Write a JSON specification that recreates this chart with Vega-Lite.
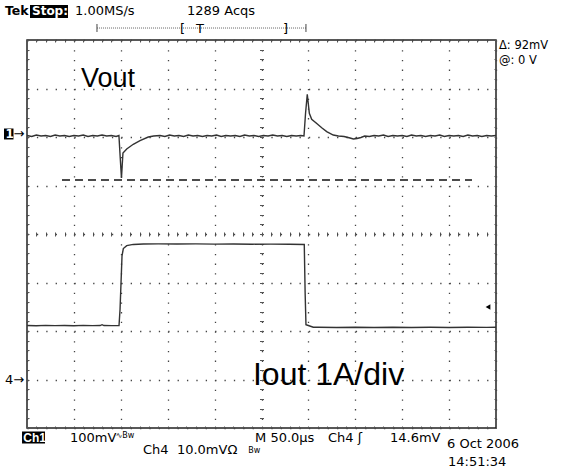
{
  "$schema": "https://vega.github.io/schema/vega-lite/v6.json",
  "width": 469,
  "height": 388,
  "autosize": "none",
  "padding": {"left": 27, "top": 40, "right": 90, "bottom": 40},
  "background": "white",
  "config": {
    "view": {"stroke": "#222", "strokeWidth": 1.5},
    "axis": {"labels": false, "ticks": false, "domain": false, "grid": false, "title": null}
  },
  "resolve": {"axis": {"x": "independent", "y": "independent"}},
  "datasets": {
    "vout": [
      {"t":0,"v":2.03},{"t":5,"v":2.01},{"t":10,"v":2.04},{"t":15,"v":2.02},{"t":20,"v":2.03},{"t":25,"v":2.01},{"t":30,"v":2.04},{"t":35,"v":2.02},{"t":40,"v":2.03},{"t":45,"v":2.01},{"t":50,"v":2.03},{"t":55,"v":2.02},{"t":60,"v":2.04},{"t":65,"v":2.01},{"t":70,"v":2.03},{"t":75,"v":2.02},{"t":80,"v":2.04},{"t":85,"v":2.02},{"t":90,"v":2.03},{"t":95,"v":2.01},{"t":98,"v":2.03},{"t":99.3,"v":1.6},{"t":100.7,"v":1.155},{"t":102.3,"v":1.67},{"t":106.3,"v":1.753},{"t":113.3,"v":1.85},{"t":120.5,"v":1.924},{"t":129.3,"v":2.0},{"t":135,"v":2.02},{"t":141.8,"v":2.03},{"t":147,"v":2.01},{"t":152,"v":2.04},{"t":157,"v":2.02},{"t":162,"v":2.03},{"t":167,"v":2.01},{"t":172,"v":2.04},{"t":177,"v":2.02},{"t":182,"v":2.03},{"t":187,"v":2.01},{"t":192,"v":2.03},{"t":197,"v":2.02},{"t":202,"v":2.04},{"t":207,"v":2.01},{"t":212,"v":2.03},{"t":217,"v":2.02},{"t":222,"v":2.03},{"t":227,"v":2.01},{"t":232,"v":2.04},{"t":237,"v":2.02},{"t":242,"v":2.03},{"t":247,"v":2.01},{"t":252,"v":2.03},{"t":257,"v":2.02},{"t":262,"v":2.04},{"t":267,"v":2.02},{"t":272,"v":2.03},{"t":277,"v":2.01},{"t":282,"v":2.03},{"t":287,"v":2.02},{"t":292,"v":2.03},{"t":295.3,"v":2.02},{"t":297,"v":2.5},{"t":298.8,"v":2.88},{"t":301,"v":2.49},{"t":303.5,"v":2.365},{"t":308.9,"v":2.28},{"t":314.2,"v":2.19},{"t":319.5,"v":2.11},{"t":326.5,"v":2.04},{"t":332,"v":2.02},{"t":338,"v":2.01},{"t":344.4,"v":1.98},{"t":348,"v":1.96},{"t":351.8,"v":1.97},{"t":356,"v":1.99},{"t":360,"v":2.02},{"t":365,"v":2.01},{"t":370,"v":2.03},{"t":375,"v":2.02},{"t":380,"v":2.04},{"t":385,"v":2.01},{"t":390,"v":2.03},{"t":395,"v":2.02},{"t":400,"v":2.03},{"t":405,"v":2.01},{"t":410,"v":2.04},{"t":415,"v":2.02},{"t":420,"v":2.03},{"t":425,"v":2.01},{"t":430,"v":2.03},{"t":435,"v":2.02},{"t":440,"v":2.04},{"t":445,"v":2.01},{"t":450,"v":2.03},{"t":455,"v":2.02},{"t":460,"v":2.03},{"t":465,"v":2.01},{"t":470,"v":2.04},{"t":475,"v":2.02},{"t":480,"v":2.03},{"t":485,"v":2.01},{"t":490,"v":2.03},{"t":495,"v":2.02},{"t":500,"v":2.03}
    ],
    "iout": [
      {"t":0,"v":-1.887},{"t":10,"v":-1.892},{"t":20,"v":-1.884},{"t":30,"v":-1.89},{"t":40,"v":-1.886},{"t":50,"v":-1.893},{"t":60,"v":-1.885},{"t":70,"v":-1.889},{"t":78,"v":-1.887},{"t":80,"v":-1.87},{"t":82,"v":-1.888},{"t":90,"v":-1.89},{"t":98.1,"v":-1.887},{"t":99.2,"v":-1.55},{"t":101.3,"v":-0.45},{"t":102.7,"v":-0.3},{"t":106.3,"v":-0.24},{"t":113.3,"v":-0.215},{"t":124,"v":-0.206},{"t":140,"v":-0.203},{"t":160,"v":-0.207},{"t":180,"v":-0.204},{"t":200,"v":-0.209},{"t":220,"v":-0.206},{"t":240,"v":-0.21},{"t":260,"v":-0.208},{"t":280,"v":-0.212},{"t":295.6,"v":-0.215},{"t":296.5,"v":-1.2},{"t":297.4,"v":-1.87},{"t":299.9,"v":-1.887},{"t":305.2,"v":-1.922},{"t":310.6,"v":-1.924},{"t":330,"v":-1.928},{"t":350,"v":-1.922},{"t":370,"v":-1.927},{"t":390,"v":-1.923},{"t":410,"v":-1.929},{"t":430,"v":-1.924},{"t":450,"v":-1.927},{"t":470,"v":-1.922},{"t":490,"v":-1.926},{"t":500,"v":-1.924}
    ],
    "ref": [{"x": 37.3, "x2": 474.4, "y": 1.113}],
    "ruler": [{"x": 74.6, "x2": 297.4, "y": 4.247}],
    "rulerEnds": [{"x": 74.6, "y": 4.33, "y2": 4.165}, {"x": 297.4, "y": 4.33, "y2": 4.165}],
    "boxes": [
      {"x": 3.2, "x2": 43.7, "y": 4.722, "y2": 4.454},
      {"x": -5.3, "x2": 19.2, "y": -4.072, "y2": -4.319},
      {"x": -24.5, "x2": -14.4, "y": 2.175, "y2": 1.949}
    ],
    "whiteText": [
      {"x": 5.33, "y": 4.588, "label": "Stop:"},
      {"x": -22.8, "y": 2.062, "label": "1"}
    ],
    "whiteText2": [
      {"x": -4.0, "y": -4.196, "label": "Ch1"}
    ],
    "boldText": [{"x": -23.45, "y": 4.588, "label": "Tek"}],
    "scopeText": [
      {"x": 51.2, "y": 4.588, "label": "1.00MS/s"},
      {"x": 170.6, "y": 4.588, "label": "1289 Acqs"},
      {"x": 163.1, "y": 4.237, "label": "["},
      {"x": 180.2, "y": 4.237, "label": "T"},
      {"x": 272.9, "y": 4.237, "label": "]"},
      {"x": 45.8, "y": -4.196, "label": "100mV"},
      {"x": 243.1, "y": -4.196, "label": "M 50.0µs"},
      {"x": 320.9, "y": -4.196, "label": "Ch4 ʃ"},
      {"x": 387.0, "y": -4.196, "label": "14.6mV"},
      {"x": 447.8, "y": -4.33, "label": "6 Oct 2006"},
      {"x": 123.7, "y": -4.454, "label": "Ch4\u00a0\u00a010.0mVΩ"},
      {"x": 448.8, "y": -4.701, "label": "14:51:34"},
      {"x": -14.4, "y": 2.062, "label": "→"},
      {"x": -23.5, "y": -3.01, "label": "4→"}
    ],
    "smallText": [
      {"x": 94.5, "y": -4.165, "label": "∿Bw"},
      {"x": 236.0, "y": -4.48, "label": "Bw"}
    ],
    "sideText": [
      {"x": 503.2, "y": 3.866, "label": "Δ: 92mV"},
      {"x": 503.2, "y": 3.577, "label": "@: 0 V"}
    ],
    "voutText": [
      {"x": 57.6, "y": 3.196, "label": "Vout"}
    ],
    "ioutText": [
      {"x": 240.9, "y": -2.907, "label": "Iout 1A/div"}
    ],
    "trig": [{"x": 491.5, "y": -1.505}]
  },
  "layer": [
    {
      "data": {"name": "vout"},
      "mark": {"type": "line", "color": "#333", "strokeWidth": 1.4},
      "encoding": {
        "x": {"field": "t", "type": "quantitative", "scale": {"domain": [0, 500], "nice": false},
              "axis": {"values": [0,50,100,150,200,250,300,350,400,450,500], "grid": true, "gridDash": [1.3, 8.4], "gridColor": "#444", "gridWidth": 1.3, "gridOpacity": 1}},
        "y": {"field": "v", "type": "quantitative", "scale": {"domain": [-4, 4], "nice": false, "zero": false},
              "axis": {"values": [-4,-3,-2,-1,0,1,2,3,4], "grid": true, "gridDash": [1.3, 8.08], "gridColor": "#444", "gridWidth": 1.3, "gridOpacity": 1}}
      }
    },
    {
      "data": {"name": "iout"},
      "mark": {"type": "line", "color": "#333", "strokeWidth": 1.4},
      "encoding": {
        "x": {"field": "t", "type": "quantitative", "scale": {"domain": [0, 500], "nice": false},
              "axis": {"values": [0,10,20,30,40,50,60,70,80,90,100,110,120,130,140,150,160,170,180,190,200,210,220,230,240,250,260,270,280,290,300,310,320,330,340,350,360,370,380,390,400,410,420,430,440,450,460,470,480,490,500], "grid": true, "gridDash": [2, 190, 4, 190, 2], "gridColor": "#555", "gridWidth": 1, "gridOpacity": 1}},
        "y": {"field": "v", "type": "quantitative", "scale": {"domain": [-4, 4], "nice": false, "zero": false},
              "axis": {"values": [-4,-3.8,-3.6,-3.4,-3.2,-3,-2.8,-2.6,-2.4,-2.2,-2,-1.8,-1.6,-1.4,-1.2,-1,-0.8,-0.6,-0.4,-0.2,0,0.2,0.4,0.6,0.8,1,1.2,1.4,1.6,1.8,2,2.2,2.4,2.6,2.8,3,3.2,3.4,3.6,3.8,4], "grid": true, "gridDash": [2, 230.5, 4, 230.5, 2], "gridColor": "#555", "gridWidth": 1, "gridOpacity": 1}}
      }
    },
    {
      "data": {"name": "ref"},
      "mark": {"type": "rule", "color": "#111", "strokeWidth": 1.6, "strokeDash": [8, 5]},
      "encoding": {
        "x": {"field": "x", "type": "quantitative", "scale": {"domain": [0, 500], "nice": false}},
        "x2": {"field": "x2"},
        "y": {"field": "y", "type": "quantitative", "scale": {"domain": [-4, 4], "nice": false, "zero": false}}
      }
    },
    {
      "data": {"name": "ruler"},
      "mark": {"type": "rule", "color": "#666", "strokeWidth": 1, "strokeDash": [1, 1]},
      "encoding": {
        "x": {"field": "x", "type": "quantitative", "scale": {"domain": [0, 500], "nice": false}},
        "x2": {"field": "x2"},
        "y": {"field": "y", "type": "quantitative", "scale": {"domain": [-4, 4], "nice": false, "zero": false}}
      }
    },
    {
      "data": {"name": "rulerEnds"},
      "mark": {"type": "rule", "color": "#444", "strokeWidth": 1},
      "encoding": {
        "x": {"field": "x", "type": "quantitative", "scale": {"domain": [0, 500], "nice": false}},
        "y": {"field": "y", "type": "quantitative", "scale": {"domain": [-4, 4], "nice": false, "zero": false}},
        "y2": {"field": "y2"}
      }
    },
    {
      "data": {"name": "boxes"},
      "mark": {"type": "rect", "color": "#000"},
      "encoding": {
        "x": {"field": "x", "type": "quantitative", "scale": {"domain": [0, 500], "nice": false}},
        "x2": {"field": "x2"},
        "y": {"field": "y", "type": "quantitative", "scale": {"domain": [-4, 4], "nice": false, "zero": false}},
        "y2": {"field": "y2"}
      }
    },
    {
      "data": {"name": "whiteText"},
      "mark": {"type": "text", "color": "#fff", "font": "DejaVu Sans", "fontWeight": "bold", "fontSize": 12, "align": "left", "baseline": "middle"},
      "encoding": {
        "x": {"field": "x", "type": "quantitative", "scale": {"domain": [0, 500], "nice": false}},
        "y": {"field": "y", "type": "quantitative", "scale": {"domain": [-4, 4], "nice": false, "zero": false}},
        "text": {"field": "label"}
      }
    },
    {
      "data": {"name": "whiteText2"},
      "mark": {"type": "text", "color": "#fff", "font": "Liberation Sans", "fontWeight": "bold", "fontSize": 12, "align": "left", "baseline": "middle"},
      "encoding": {
        "x": {"field": "x", "type": "quantitative", "scale": {"domain": [0, 500], "nice": false}},
        "y": {"field": "y", "type": "quantitative", "scale": {"domain": [-4, 4], "nice": false, "zero": false}},
        "text": {"field": "label"}
      }
    },
    {
      "data": {"name": "boldText"},
      "mark": {"type": "text", "color": "#000", "font": "DejaVu Sans", "fontWeight": "bold", "fontSize": 12.5, "align": "left", "baseline": "middle"},
      "encoding": {
        "x": {"field": "x", "type": "quantitative", "scale": {"domain": [0, 500], "nice": false}},
        "y": {"field": "y", "type": "quantitative", "scale": {"domain": [-4, 4], "nice": false, "zero": false}},
        "text": {"field": "label"}
      }
    },
    {
      "data": {"name": "scopeText"},
      "mark": {"type": "text", "color": "#000", "font": "DejaVu Sans", "fontSize": 13, "align": "left", "baseline": "middle"},
      "encoding": {
        "x": {"field": "x", "type": "quantitative", "scale": {"domain": [0, 500], "nice": false}},
        "y": {"field": "y", "type": "quantitative", "scale": {"domain": [-4, 4], "nice": false, "zero": false}},
        "text": {"field": "label"}
      }
    },
    {
      "data": {"name": "smallText"},
      "mark": {"type": "text", "color": "#000", "font": "DejaVu Sans", "fontSize": 8, "align": "left", "baseline": "middle"},
      "encoding": {
        "x": {"field": "x", "type": "quantitative", "scale": {"domain": [0, 500], "nice": false}},
        "y": {"field": "y", "type": "quantitative", "scale": {"domain": [-4, 4], "nice": false, "zero": false}},
        "text": {"field": "label"}
      }
    },
    {
      "data": {"name": "sideText"},
      "mark": {"type": "text", "color": "#000", "font": "DejaVu Sans", "fontSize": 11.5, "align": "left", "baseline": "middle"},
      "encoding": {
        "x": {"field": "x", "type": "quantitative", "scale": {"domain": [0, 500], "nice": false}},
        "y": {"field": "y", "type": "quantitative", "scale": {"domain": [-4, 4], "nice": false, "zero": false}},
        "text": {"field": "label"}
      }
    },
    {
      "data": {"name": "voutText"},
      "mark": {"type": "text", "color": "#000", "font": "Liberation Sans", "fontSize": 27, "align": "left", "baseline": "middle"},
      "encoding": {
        "x": {"field": "x", "type": "quantitative", "scale": {"domain": [0, 500], "nice": false}},
        "y": {"field": "y", "type": "quantitative", "scale": {"domain": [-4, 4], "nice": false, "zero": false}},
        "text": {"field": "label"}
      }
    },
    {
      "data": {"name": "ioutText"},
      "mark": {"type": "text", "color": "#000", "font": "Liberation Sans", "fontSize": 32, "align": "left", "baseline": "middle"},
      "encoding": {
        "x": {"field": "x", "type": "quantitative", "scale": {"domain": [0, 500], "nice": false}},
        "y": {"field": "y", "type": "quantitative", "scale": {"domain": [-4, 4], "nice": false, "zero": false}},
        "text": {"field": "label"}
      }
    },
    {
      "data": {"name": "trig"},
      "mark": {"type": "point", "shape": "triangle-left", "filled": true, "color": "#000", "size": 30, "opacity": 1},
      "encoding": {
        "x": {"field": "x", "type": "quantitative", "scale": {"domain": [0, 500], "nice": false}},
        "y": {"field": "y", "type": "quantitative", "scale": {"domain": [-4, 4], "nice": false, "zero": false}}
      }
    }
  ]
}
